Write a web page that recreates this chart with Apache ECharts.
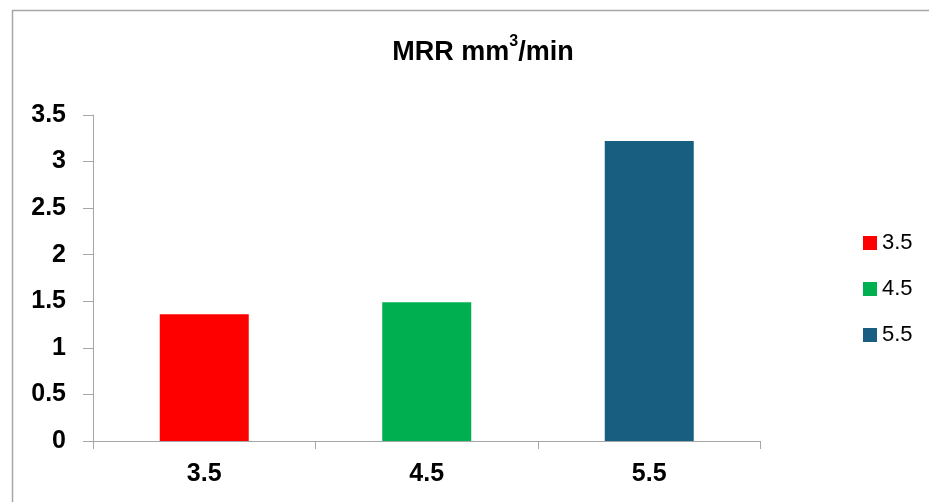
<!DOCTYPE html>
<html>
<head>
<meta charset="utf-8">
<script src="https://cdn.jsdelivr.net/npm/echarts@6/dist/echarts.min.js"></script>
<style>html,body{margin:0;padding:0;background:#fff;}#c{width:929px;height:502px;}</style>
</head>
<body>
<div id="c"></div>
<script>
var categories = ['3.5', '4.5', '5.5'];
var seriesNames = ['3.5', '4.5', '5.5'];
var values = [1.36, 1.49, 3.22];
var colors = ['#ff0000', '#00b050', '#175e80'];
var yTicks = [0, 0.5, 1, 1.5, 2, 2.5, 3, 3.5];

var chart = echarts.init(document.getElementById('c'));
var series = seriesNames.map(function (name, i) {
  return {
    name: name,
    type: 'bar',
    barWidth: '40%',
    barGap: '-100%',
    itemStyle: { color: colors[i] },
    data: categories.map(function (c, j) { return j === i ? values[i] : '-'; })
  };
});
chart.setOption({
  animation: false,
  backgroundColor: '#fff',
  textStyle: { fontFamily: 'Liberation Sans, Arial, sans-serif' },
  title: {
    text: '{a|MRR mm}{s|3}{a|/min}',
    left: 478, top: 29, textAlign: 'center',
    textStyle: {
      rich: {
        a: { fontSize: 27, fontWeight: 'bold', color: '#000', fontFamily: 'Liberation Sans', verticalAlign: 'bottom', lineHeight: 32 },
        s: { fontSize: 16, fontWeight: 'bold', color: '#000', fontFamily: 'Liberation Sans', verticalAlign: 'top', lineHeight: 32, padding: [0, 0, 12, 0] }
      }
    }
  },
  legend: {
    orient: 'vertical', left: 858, top: 227,
    itemWidth: 14, itemHeight: 14, itemGap: 24,
    icon: 'rect',
    textStyle: { fontSize: 22, color: '#000', fontFamily: 'Liberation Sans' },
    data: seriesNames
  },
  grid: { left: 93, top: 115, right: 168.5, bottom: 61, containLabel: false },
  xAxis: {
    type: 'category', data: categories,
    axisLine: { lineStyle: { color: '#a6a6a6', width: 1 } },
    axisTick: { show: true, length: 8, inside: false, lineStyle: { color: '#a6a6a6' } },
    axisLabel: { fontSize: 25, fontWeight: 'bold', color: '#000', margin: 21, fontFamily: 'Liberation Sans' }
  },
  yAxis: {
    type: 'value', min: 0, max: 3.5, interval: 0.5,
    axisLine: { show: true, lineStyle: { color: '#a6a6a6', width: 1 } },
    axisTick: { show: true, length: 10, lineStyle: { color: '#a6a6a6' } },
    splitLine: { show: false },
    axisLabel: { fontSize: 25, fontWeight: 'bold', color: '#000', margin: 27, fontFamily: 'Liberation Sans',
      formatter: function (v) { return yTicks.indexOf(v) >= 0 ? String(v) : ''; } }
  },
  series: series,
  graphic: [{
    type: 'rect', left: 10, top: 8, silent: true,
    shape: { width: 1000, height: 1000 },
    style: { fill: 'none', stroke: '#a6a6a6', lineWidth: 1.5 }
  }]
});
</script>
</body>
</html>
